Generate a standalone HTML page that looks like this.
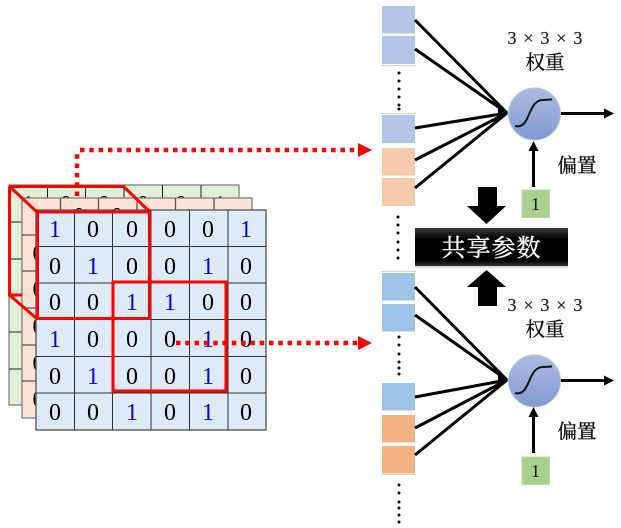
<!DOCTYPE html>
<html><head><meta charset="utf-8"><style>
html,body{margin:0;padding:0;background:#fff;width:621px;height:528px;overflow:hidden}
svg{display:block}
.d{font-family:"Liberation Serif",serif;font-size:24px;text-anchor:middle;fill:#000}
.b{fill:#0000e6}
.c{font-family:"Noto Serif CJK SC","Liberation Serif",serif;font-size:19.500px;text-anchor:middle;fill:#111;stroke:#111;stroke-width:.35px}
.m{font-family:"Liberation Serif",serif;font-size:18px;text-anchor:middle;fill:#222;letter-spacing:1.200px;stroke:#222;stroke-width:.2px}
.o{font-family:"Liberation Serif",serif;font-size:18px;text-anchor:middle;fill:#111}
</style></head><body>
<svg width="621" height="528" viewBox="0 0 621 528" xmlns="http://www.w3.org/2000/svg">
<defs>
<linearGradient id="g" x1="0" y1="0" x2="0" y2="1"><stop offset="0" stop-color="#aebbe0"/><stop offset="1" stop-color="#819ad2"/></linearGradient>
<linearGradient id="k" x1="0" y1="0" x2="0" y2="1"><stop offset="0" stop-color="#3a3a3a"/><stop offset=".3" stop-color="#000"/><stop offset=".85" stop-color="#000"/><stop offset="1" stop-color="#333"/></linearGradient>
</defs>

<!-- back green grid -->
<rect x="9" y="185" width="230" height="220" fill="#e2efd9" stroke="#777" stroke-width="1.2"/>
<g stroke="#222" stroke-width="1" fill="none">
<path d="M47.500 185V405M85.500 185V405M124 185V405M162.500 185V405M201 185V405M9 222H239M9 259H239M9 295H239M9 332H239M9 369H239"/>
</g>
<text class="d" x="28" y="212">1</text><text class="d" x="66" y="212">0</text><text class="d" x="104" y="212">0</text><text class="d" x="143" y="212">0</text><text class="d" x="181" y="212">0</text><text class="d b" x="220" y="212">1</text>

<!-- middle orange grid -->
<rect x="22" y="198" width="230" height="220" fill="#fbe4d5" stroke="#777" stroke-width="1.2"/>
<g stroke="#555" stroke-width="1.300" fill="none">
<path d="M60.500 198V418M98.500 198V418M137 198V418M175.500 198V418M214 198V418M22 235H252M22 271H252M22 308H252M22 345H252M22 381H252"/>
</g>
<text class="d" x="38.500" y="261">0</text><text class="d" x="38.500" y="297">0</text><text class="d" x="38.500" y="334">0</text><text class="d" x="38.500" y="371">0</text><text class="d" x="38.500" y="407">0</text>
<text class="d" x="79" y="224">0</text><text class="d" x="117" y="224">0</text>

<!-- front blue grid -->
<rect x="36" y="210" width="230" height="220" fill="#deeaf6" stroke="#666" stroke-width="1.500"/>
<g stroke="#333" stroke-width="1" fill="none">
<path d="M74.500 210V430M112.500 210V430M151 210V430M189.500 210V430M228 210V430M36 246.500H266M36 283H266M36 319.500H266M36 356.500H266M36 393H266"/>
</g>
<g>
<text class="d b" x="55" y="237">1</text><text class="d" x="93" y="237">0</text><text class="d" x="132" y="237">0</text><text class="d" x="170" y="237">0</text><text class="d" x="208" y="237">0</text><text class="d b" x="246" y="237">1</text>
<text class="d" x="55" y="274">0</text><text class="d b" x="93" y="274">1</text><text class="d" x="132" y="274">0</text><text class="d" x="170" y="274">0</text><text class="d b" x="208" y="274">1</text><text class="d" x="246" y="274">0</text>
<text class="d" x="55" y="310">0</text><text class="d" x="93" y="310">0</text><text class="d b" x="132" y="310">1</text><text class="d b" x="170" y="310">1</text><text class="d" x="208" y="310">0</text><text class="d" x="246" y="310">0</text>
<text class="d b" x="55" y="347">1</text><text class="d" x="93" y="347">0</text><text class="d" x="132" y="347">0</text><text class="d" x="170" y="347">0</text><text class="d b" x="208" y="347">1</text><text class="d" x="246" y="347">0</text>
<text class="d" x="55" y="384">0</text><text class="d b" x="93" y="384">1</text><text class="d" x="132" y="384">0</text><text class="d" x="170" y="384">0</text><text class="d b" x="208" y="384">1</text><text class="d" x="246" y="384">0</text>
<text class="d" x="55" y="420">0</text><text class="d" x="93" y="420">0</text><text class="d b" x="132" y="420">1</text><text class="d" x="170" y="420">0</text><text class="d b" x="208" y="420">1</text><text class="d" x="246" y="420">0</text>
</g>

<!-- red cube -->
<g fill="none" stroke="#fe0000" stroke-width="3">
<path d="M9.500 186.500H123.500M9.500 186.500V295H22M9.500 186.500L37 212M123.500 186.500L150 212M9.500 295L36 318"/>
<rect x="37.500" y="212" width="112" height="106.500"/>
<rect x="113" y="282" width="113" height="109"/>
</g>

<!-- red dotted -->
<g fill="none" stroke="#fe0000" stroke-width="4.500" stroke-dasharray="4.500 4.800">
<path d="M77 196V150"/>
<path d="M80 150H359"/>
<path d="M176 343H359"/>
</g>
<path d="M358 143L372 150L358 157Z" fill="#fe0000"/>
<path d="M358 336L372 343L358 350Z" fill="#fe0000"/>

<!-- input boxes top -->
<g fill="#b4c6e7">
<rect x="382" y="6" width="33" height="27.500"/><rect x="382" y="36" width="33" height="28"/><rect x="382" y="115" width="33" height="28"/>
</g>
<g fill="#f7caac">
<rect x="382" y="148" width="33" height="27.500"/><rect x="382" y="178" width="33" height="28"/>
</g>
<!-- input boxes bottom -->
<g fill="#9dc3e6">
<rect x="382" y="273" width="33" height="27.500"/><rect x="382" y="304" width="33" height="27.500"/><rect x="382" y="383" width="33" height="27.500"/>
</g>
<g fill="#f4b183">
<rect x="382" y="415" width="33" height="27.500"/><rect x="382" y="446" width="33" height="27.500"/>
</g>
<g stroke="#d4d4d4" stroke-width="1" fill="none">
<path d="M381 271.500H416M381 474.500H416M381 65.500H416M381 113.500H416"/>
</g>

<!-- dots -->
<g fill="#111">
<circle cx="399" cy="73" r="1.500"/><circle cx="399" cy="81" r="1.500"/><circle cx="399" cy="89" r="1.500"/><circle cx="399" cy="97" r="1.500"/><circle cx="399" cy="105" r="1.500"/><circle cx="399" cy="109" r="1.500"/>
<circle cx="398" cy="217" r="1.500"/><circle cx="398" cy="225" r="1.500"/><circle cx="398" cy="233" r="1.500"/><circle cx="398" cy="242" r="1.500"/><circle cx="398" cy="250" r="1.500"/><circle cx="398" cy="258" r="1.500"/>
<circle cx="399" cy="337" r="1.500"/><circle cx="399" cy="345" r="1.500"/><circle cx="399" cy="354" r="1.500"/><circle cx="399" cy="362" r="1.500"/><circle cx="399" cy="368" r="1.500"/><circle cx="399" cy="374" r="1.500"/>
<circle cx="399" cy="485" r="1.500"/><circle cx="399" cy="493" r="1.500"/><circle cx="399" cy="502" r="1.500"/><circle cx="399" cy="508" r="1.500"/><circle cx="399" cy="515" r="1.500"/><circle cx="399" cy="522" r="1.500"/>
</g>

<!-- connectors -->
<g stroke="#000" stroke-width="3" fill="none">
<path d="M415 20L507 113M415 49L507 113M415 128L507 113M415 160L507 113M415 188L507 113"/>
<path d="M415 287L507 380M415 315L507 380M415 397L507 380M415 428L507 380M415 455L507 380"/>
<path d="M560 113.500H606M560 380.500H606M533.500 187V150M533.500 453V412"/>
</g>
<g fill="#000">
<path d="M508 113L498 103L498 122Z"/><path d="M508 380L498 370L498 389Z"/>
<path d="M614 113.500L604 108.500V118.500Z"/><path d="M614 380.500L604 375.500V385.500Z"/>
<path d="M533.500 141L528.500 151H538.500Z"/><path d="M533.500 407L528.500 417H538.500Z"/>
</g>

<!-- neurons -->
<circle cx="534.500" cy="114" r="26" fill="url(#g)" stroke="#b9c6e4" stroke-width="1"/>
<circle cx="534.500" cy="381" r="26" fill="url(#g)" stroke="#b9c6e4" stroke-width="1"/>
<path d="M515 126C531 130 527 100 543 100L552 99.500" fill="none" stroke="#111" stroke-width="2"/>
<path d="M515 393C531 397 527 367 543 367L552 366.500" fill="none" stroke="#111" stroke-width="2"/>

<!-- bias -->
<rect x="522" y="190" width="27.500" height="27.500" fill="#a9d18e" stroke="#bcd9a8"/>
<rect x="522" y="457" width="27.500" height="27.500" fill="#a9d18e" stroke="#bcd9a8"/>
<text class="o" x="535.500" y="210">1</text>
<text class="o" x="535.500" y="477">1</text>

<!-- labels -->
<text class="m" x="545.500" y="44">3 × 3 × 3</text>
<text class="c" x="545" y="69">权重</text>
<text class="c" x="577" y="172">偏置</text>
<text class="m" x="545.500" y="311">3 × 3 × 3</text>
<text class="c" x="545" y="336">权重</text>
<text class="c" x="577" y="438">偏置</text>

<!-- block arrows -->
<path d="M478 187H497V206H506L486.500 224L467 206H478Z" fill="#000"/>
<path d="M486.500 270L506 287H497V306H478V287H467Z" fill="#000"/>

<!-- shared box -->
<rect x="415" y="266" width="153" height="2" fill="#ddd"/>
<rect x="415" y="228" width="153" height="38" fill="url(#k)"/>
<text x="491.500" y="256" font-family="'Noto Serif CJK SC','Liberation Serif',serif" font-size="24" text-anchor="middle" fill="#fff" stroke="#fff" stroke-width=".4" letter-spacing="1">共享参数</text>
</svg>
</body></html>
